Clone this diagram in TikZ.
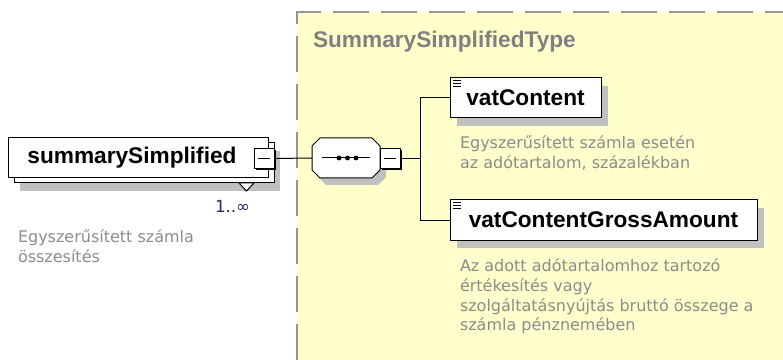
\documentclass[tikz,border=0pt]{standalone}
\usepackage{fontspec}
\setmainfont{Liberation Sans}
\newfontfamily\descfont{DejaVu Sans}
\usetikzlibrary{shadows}
\definecolor{yel}{RGB}{255,255,204}
\definecolor{shadowgray}{RGB}{192,192,192}
\definecolor{titlegray}{RGB}{128,128,128}
\definecolor{descgray}{RGB}{140,140,140}
\definecolor{dashgray}{RGB}{150,150,150}
\definecolor{multcol}{RGB}{40,40,90}
\begin{document}
\begin{tikzpicture}[x=0.75pt,y=-0.75pt,
  every node/.style={inner sep=0pt, outer sep=0pt},
  elem/.style={draw=black, line width=0.75pt, fill=white, minimum height=30pt,
    font=\fontsize{17}{20}\selectfont\bfseries, text=black},
  boxshadow/.style={drop shadow={shadow xshift=5.25pt, shadow yshift=-6pt, fill=shadowgray, opacity=1}},
  minusbox/.style={draw=black, line width=0.75pt, fill=white, minimum size=15pt,
    drop shadow={shadow xshift=1.5pt, shadow yshift=-1.5pt, fill=black, opacity=1},
    path picture={\draw[line width=0.75pt] ([xshift=3pt]path picture bounding box.west) -- ([xshift=-3pt]path picture bounding box.east);}},
  desc/.style={font=\descfont\fontsize{12}{14.8}\selectfont, text=descgray, align=left},
  conn/.style={draw=black, line width=0.75pt},
  dashline/.style={draw=dashgray, line width=1.5pt, dash pattern=on 27pt off 9pt},
]
\useasboundingbox (0,0) rectangle (783,360);
% type area
\fill[yel] (297,12) rectangle (783,360);
\draw[dashline] (297,360) -- (297,12) -- (783,12);
\node[font=\fontsize{17}{20}\selectfont\bfseries, text=titlegray, anchor=west] (title) at (313,42) {SummarySimplifiedType};

% main element
\node[elem, minimum width=195pt,
  drop shadow={shadow xshift=9pt, shadow yshift=-9.75pt, fill=shadowgray, opacity=1},
  copy shadow={shadow xshift=4.5pt, shadow yshift=-3.75pt, draw=black, fill=white, line width=0.75pt}]
  (ss) at (138,158) {summarySimplified\hspace*{9pt}};
\draw[line width=0.75pt, fill=white] (239,183) -- (254,183) -- (246.5,191) -- cycle;
\node[minusbox] (m1) at (264,158.5) {};
\node[font=\descfont\fontsize{12.5}{15}\selectfont, text=multcol, anchor=west] (mult) at (215,206) {1..∞};
\node[desc, anchor=north west] (d0) at (18,230) {Egyszerűsített számla\\összesítés};

% sequence compositor
\node[minimum width=51pt, minimum height=30pt] (seq) at (346,158) {};
\fill[shadowgray, transform canvas={shift={(4.5pt,-5.25pt)}}]
  ([xshift=6pt]seq.north west) -- ([xshift=-6pt]seq.north east) -- ([yshift=-6pt]seq.north east)
  -- ([yshift=6pt]seq.south east) -- ([xshift=-6pt]seq.south east) -- ([xshift=6pt]seq.south west)
  -- ([yshift=6pt]seq.south west) -- ([yshift=-6pt]seq.north west) -- cycle;
\draw[line width=0.75pt, fill=white]
  ([xshift=6pt]seq.north west) -- ([xshift=-6pt]seq.north east) -- ([yshift=-6pt]seq.north east)
  -- ([yshift=6pt]seq.south east) -- ([xshift=-6pt]seq.south east) -- ([xshift=6pt]seq.south west)
  -- ([yshift=6pt]seq.south west) -- ([yshift=-6pt]seq.north west) -- cycle;
\draw[line width=0.75pt] ([xshift=7.5pt]seq.west) -- ([xshift=-7.5pt]seq.east);
\foreach \cx in {339,347.5,356} \fill (\cx,158) circle (1.8pt);
\node[minusbox] (m2) at (390,158.5) {};

% children
\node[elem, minimum width=113.25pt, boxshadow] (vc) at (525.5,98) {vatContent};
\node[elem, minimum width=230.25pt, boxshadow] (vg) at (603.5,220) {vatContentGrossAmount};
\foreach \n in {vc,vg}
  \foreach \dy in {0,3,6}
    \draw[line width=0.75pt] ([shift={(3,3+\dy)}]\n.north west) -- ++(8,0);

\node[desc, anchor=north west] (d1) at (460,136) {Egyszerűsített számla esetén\\az adótartalom, százalékban};
\node[desc, anchor=north west] (d2) at (460,259) {Az adott adótartalomhoz tartozó\\értékesítés vagy\\szolgáltatásnyújtás bruttó összege a\\számla pénznemében};

% connectors
\coordinate (bt) at (420,98);
\coordinate (bb) at (420,220);
\draw[conn] (m1.east) -- (seq.west);
\draw[conn] (m2.east) -- (m2.east -| bt);
\draw[conn] (vc.west) -- (bt) -- (bb) -- (vg.west);
\end{tikzpicture}
\end{document}
